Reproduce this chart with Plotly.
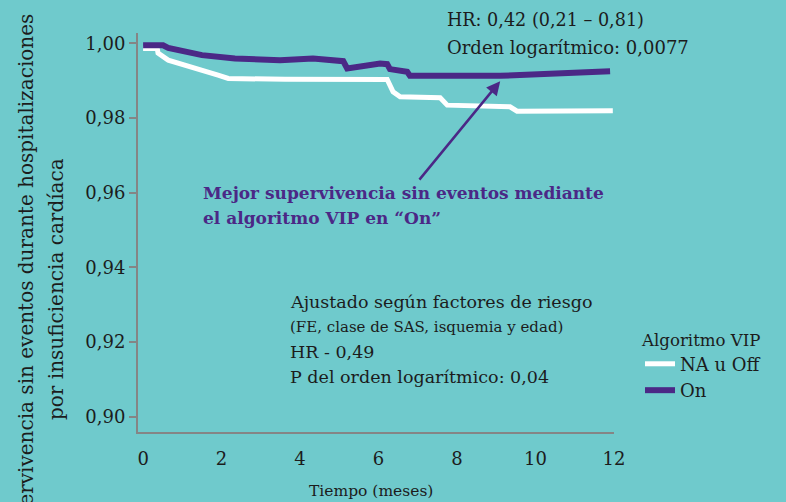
import plotly.graph_objects as go

# ---- data ----
months_off = [0, 0.36, 0.38, 0.64, 1.91, 2.17, 3.62, 6.22, 6.37, 6.55, 7.57, 7.75, 9.35, 9.53, 11.97]
surv_off = [0.99866, 0.99866, 0.99740, 0.99553, 0.99151, 0.99062, 0.99038, 0.99036,
            0.98703, 0.98570, 0.98543, 0.98347, 0.98302, 0.98186, 0.98194]
months_on = [0, 0.51, 0.64, 1.50, 2.34, 3.49, 4.33, 5.10, 5.20, 6.04, 6.22, 6.29, 6.73, 6.80, 9.10, 11.9]
surv_on = [0.9995, 0.9995, 0.99882, 0.99687, 0.99598, 0.99553, 0.99598, 0.99526, 0.99330,
           0.99464, 0.99445, 0.99312, 0.99239, 0.99132, 0.99132, 0.99258]
x_ticks = [0, 2, 4, 6, 8, 10, 12]
y_ticks = [0.90, 0.92, 0.94, 0.96, 0.98, 1.00]
series_names = ["NA u Off", "On"]

BG = "rgb(111,202,204)"
PURPLE = "#4b2886"
WHITE = "#ffffff"
TXT = "#1c1c1c"
AX = "#858585"
FONT = "DejaVu Serif"

L, R, T, B = 138, 172, 33, 70
W, H = 786, 502
PW, PH = W - L - R, H - T - B


def px_x(px):
    return (px - L) / PW


def px_y(py):
    return (H - B - py) / PH


fig = go.Figure()
fig.add_trace(go.Scatter(x=months_off, y=surv_off, mode="lines", name=series_names[0],
                         line=dict(color=WHITE, width=5)))
fig.add_trace(go.Scatter(x=months_on, y=surv_on, mode="lines", name=series_names[1],
                         line=dict(color=PURPLE, width=6)))

annotations = []


def txt(text, px, py, size=17.5, color=TXT, bold=False):
    if bold:
        text = "<b>" + text + "</b>"
    annotations.append(dict(text=text, xref="paper", yref="paper", x=px_x(px), y=px_y(py),
                            xanchor="left", yanchor="middle", showarrow=False,
                            font=dict(family=FONT, size=size, color=color)))


txt("HR: 0,42 (0,21 – 0,81)", 445, 20, size=17.6)
txt("Orden logarítmico: 0,0077", 445, 47, size=18)
txt("Mejor supervivencia sin eventos mediante", 201, 193, size=17, color=PURPLE, bold=True)
txt("el algoritmo VIP en “On”", 201, 218, size=17, color=PURPLE, bold=True)
txt("Ajustado según factores de riesgo", 288, 302)
txt("(FE, clase de SAS, isquemia y edad)", 288, 327, size=15)
txt("HR - 0,49", 288, 352)
txt("P del orden logarítmico: 0,04", 288, 377)

# arrow
annotations.append(dict(x=9.10, y=0.9899, xref="x", yref="y", text="", showarrow=True,
                        ax=-82, ay=100, arrowhead=2, arrowsize=1.1, arrowwidth=2.5,
                        arrowcolor=PURPLE))

# axis titles
annotations.append(dict(text="Tiempo (meses)", xref="paper", yref="paper", x=px_x(371), y=px_y(491),
                        xanchor="center", yanchor="middle", showarrow=False,
                        font=dict(family=FONT, size=15.5, color=TXT)))
annotations.append(dict(text="Supervivencia sin eventos durante hospitalizaciones", xref="paper",
                        yref="paper", x=px_x(26), y=px_y(280), xanchor="center", yanchor="middle",
                        textangle=-90, showarrow=False, font=dict(family=FONT, size=20, color=TXT)))
annotations.append(dict(text="por insuficiencia cardíaca", xref="paper",
                        yref="paper", x=px_x(56), y=px_y(289), xanchor="center", yanchor="middle",
                        textangle=-90, showarrow=False, font=dict(family=FONT, size=20, color=TXT)))

fig.update_layout(
    width=W, height=H,
    margin=dict(l=L, r=R, t=T, b=B),
    paper_bgcolor=BG, plot_bgcolor=BG,
    separators=",.",
    font=dict(family=FONT, color=TXT, size=18),
    showlegend=True,
    legend=dict(title=dict(text="Algoritmo VIP", font=dict(family=FONT, size=16.6, color=TXT)),
                x=px_x(640), y=px_y(324), xanchor="left", yanchor="top",
                bgcolor="rgba(0,0,0,0)", font=dict(family=FONT, size=18, color=TXT),
                tracegroupgap=0),
    annotations=annotations,
    xaxis=dict(range=[-0.13, 12.0], tickvals=x_ticks, ticktext=[str(v) for v in x_ticks],
               showgrid=False, zeroline=False, showline=True, linecolor=AX, linewidth=2,
               ticks="", ticklabelstandoff=9, tickfont=dict(family=FONT, size=18, color=TXT)),
    yaxis=dict(range=[0.8959, 1.0028], tickvals=y_ticks, tickformat=".2f",
               showgrid=False, zeroline=False, showline=True, linecolor=AX, linewidth=2,
               ticks="outside", ticklen=7, tickwidth=2, tickcolor=AX,
               tickfont=dict(family=FONT, size=18, color=TXT)),
)

fig.write_html("out.html", config={"displayModeBar": False},
               post_script="document.body.style.margin='0';")
